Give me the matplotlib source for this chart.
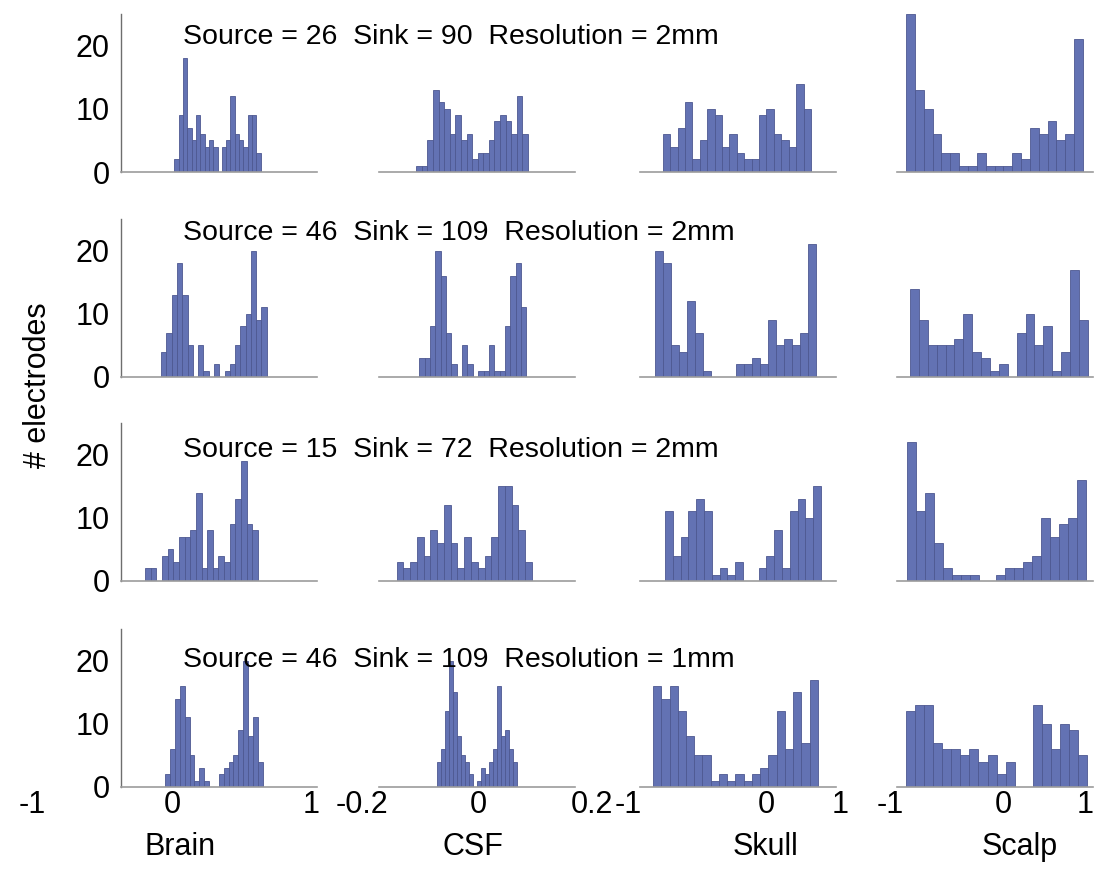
import numpy as np
import matplotlib
matplotlib.use("Agg")
import matplotlib.pyplot as plt

plt.rcParams['font.family'] = ['Liberation Sans', 'DejaVu Sans']

# run settings (one row each)
sources = [26, 46, 15, 46]
sinks = [90, 109, 72, 109]
resolutions = ['2mm', '2mm', '2mm', '1mm']

tissues = ['Brain', 'CSF', 'Skull', 'Scalp']
xlims = [(-1, 1), (-0.2, 0.2), (-1, 1), (-1, 1)]

# histogram ranges (data min, max) and counts in 20 bins, per row
brain_range = [(-0.456, 0.426), (-0.59, 0.487), (-0.754, 0.398), (-0.55, 0.446)]
brain_counts = [
    [2, 9, 18, 7, 5, 9, 6, 4, 5, 4, 0, 4, 5, 12, 6, 5, 4, 9, 9, 3],
    [4, 7, 13, 18, 13, 5, 0, 5, 1, 0, 2, 0, 1, 2, 5, 8, 10, 20, 9, 11],
    [2, 2, 0, 4, 5, 3, 7, 7, 8, 14, 2, 8, 2, 4, 3, 9, 13, 19, 9, 8],
    [2, 6, 14, 16, 11, 5, 1, 3, 1, 0, 0, 2, 3, 4, 5, 9, 20, 8, 11, 4],
]
csf_range = [(-0.124, 0.104), (-0.118, 0.101), (-0.164, 0.112), (-0.082, 0.082)]
csf_counts = [
    [1, 1, 5, 13, 11, 10, 6, 9, 5, 6, 2, 3, 3, 5, 8, 9, 8, 6, 12, 6],
    [3, 3, 8, 20, 16, 7, 2, 0, 5, 2, 0, 1, 1, 5, 1, 1, 8, 16, 18, 11],
    [3, 2, 3, 7, 4, 8, 6, 12, 6, 2, 7, 3, 2, 4, 7, 15, 15, 12, 8, 3],
    [4, 6, 12, 20, 15, 8, 5, 4, 2, 0, 1, 3, 2, 4, 6, 16, 8, 9, 6, 4],
]
skull_range = [(-0.767, 0.744), (-0.846, 0.795), (-0.744, 0.846), (-0.867, 0.815)]
skull_counts = [
    [6, 4, 7, 11, 2, 5, 10, 9, 4, 6, 3, 2, 2, 9, 10, 6, 5, 4, 14, 10],
    [20, 18, 5, 4, 12, 7, 1, 0, 0, 0, 2, 2, 3, 2, 9, 5, 6, 5, 7, 21],
    [11, 4, 7, 11, 13, 11, 1, 2, 1, 3, 0, 0, 2, 4, 8, 2, 11, 13, 10, 15],
    [16, 14, 16, 12, 8, 5, 5, 1, 2, 1, 2, 1, 2, 3, 5, 12, 6, 15, 7, 17],
]
scalp_range = [(-0.908, 0.898), (-0.867, 0.946), (-0.895, 0.925), (-0.908, 0.94)]
scalp_counts = [
    [25, 13, 10, 6, 3, 3, 1, 1, 3, 1, 1, 1, 3, 2, 7, 6, 8, 5, 6, 21],
    [14, 9, 5, 5, 5, 6, 10, 4, 3, 1, 2, 0, 7, 10, 5, 8, 1, 4, 17, 9],
    [22, 11, 14, 6, 2, 1, 1, 1, 0, 0, 1, 2, 2, 3, 4, 10, 7, 9, 10, 16],
    [12, 13, 13, 7, 6, 6, 5, 6, 4, 5, 2, 4, 0, 0, 13, 10, 6, 10, 9, 5],
]

ranges = [brain_range, csf_range, skull_range, scalp_range]
counts = [brain_counts, csf_counts, skull_counts, scalp_counts]

W, H = 1102, 869
fig = plt.figure(figsize=(W / 100, H / 100), dpi=100)

col_left = [121, 379, 640, 897]
row_bottom = [172, 377, 581, 787]
ax_w, ax_h = 196, 158

bar_color = '#6372b3'
edge_color = '#4d5891'

for r in range(4):
    for c in range(4):
        ax = fig.add_axes([col_left[c] / W, 1 - row_bottom[r] / H, ax_w / W, ax_h / H])
        lo, hi = ranges[c][r]
        edges = np.linspace(lo, hi, 21)
        ax.bar(edges[:-1], counts[c][r], width=np.diff(edges), align='edge',
               color=bar_color, edgecolor=edge_color, linewidth=0.6)
        ax.set_xlim(*xlims[c])
        ax.set_ylim(0, 25)
        ax.set_xticks([])
        for s in ['top', 'right']:
            ax.spines[s].set_visible(False)
        ax.spines['bottom'].set_color('#9c9c9c')
        ax.spines['bottom'].set_linewidth(1.2)
        if c == 0:
            ax.set_yticks([0, 10, 20])
            ax.tick_params(axis='y', length=0, pad=8, labelsize=22)
            ax.spines['left'].set_color('#6e6e6e')
            ax.spines['left'].set_linewidth(1.0)
        else:
            ax.set_yticks([])
            ax.spines['left'].set_visible(False)
        ax.patch.set_alpha(0)

    # run description above each row
    txt = 'Source = %d  Sink = %d  Resolution = %s' % (sources[r], sinks[r], resolutions[r])
    title_y = [37, 233, 450, 660][r]
    fig.text(183 / W, 1 - title_y / H, txt, fontsize=20.5, ha='left', va='center')

# bottom tick labels and tissue names
tick_text = [['-1', '0', '1'], ['-0.2', '0', '0.2'], ['-1', '0', '1'], ['-1', '0', '1']]
tick_x = [[32, 172, 311], [362, 478, 592], [628, 766, 840], [890, 1003, 1085]]
for c in range(4):
    for t, x in zip(tick_text[c], tick_x[c]):
        fig.text(x / W, 1 - 805 / H, t, fontsize=22, ha='center', va='center')
name_x = [180, 473, 765, 1020]
for name, x in zip(tissues, name_x):
    fig.text(x / W, 1 - 847 / H, name, fontsize=22, ha='center', va='center')

fig.text(38 / W, 1 - 385 / H, '# electrodes', fontsize=22, rotation=90,
         ha='center', va='center')

fig.savefig('out.png', dpi=100)
